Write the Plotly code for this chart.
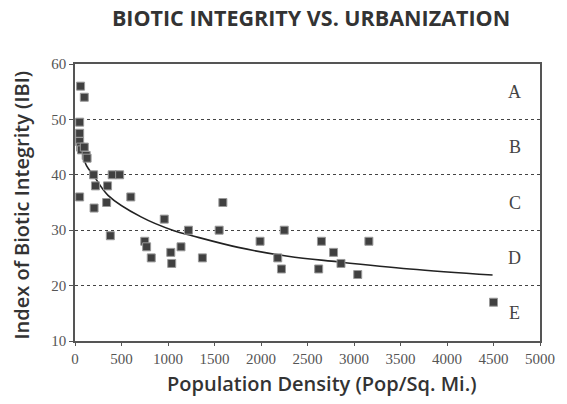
import plotly.graph_objects as go

# Data
pop_density = [60, 100, 50, 50, 50, 60, 70, 100, 120, 130, 200, 220, 350, 400, 480, 50, 600,
               205, 340, 380, 750, 770, 820, 960, 1030, 1040, 1140, 1220, 1370, 1550, 1590,
               1990, 2250, 2180, 2220, 2650, 2620, 2780, 2860, 3040, 3160, 4500]
ibi = [56, 54, 49.5, 47.5, 46, 45, 44.5, 45, 43.5, 43, 40, 38, 38, 40, 40, 36, 36,
       34, 35, 29, 28, 27, 25, 32, 26, 24, 27, 30, 25, 30, 35,
       28, 30, 25, 23, 28, 23, 26, 24, 22, 28, 17]

# Trend curve
trend_x = [85, 125, 195, 355, 710, 1065, 1260, 1755, 2290, 2820, 3600, 4490]
trend_y = [43.6, 41.6, 40.0, 36.3, 32.4, 29.9, 29.0, 26.9, 25.3, 24.3, 23.0, 21.9]

class_labels = ["A", "B", "C", "D", "E"]
class_label_y = [55, 45, 35, 25, 15]
class_label_x = 4730

x_ticks = [0, 500, 1000, 1500, 2000, 2500, 3000, 3500, 4000, 4500, 5000]
y_ticks = [10, 20, 30, 40, 50, 60]

fig = go.Figure()
fig.add_trace(go.Scatter(x=trend_x, y=trend_y, mode="lines", line_shape="spline",
                         line=dict(color="#222222", width=1.6), hoverinfo="skip"))
fig.add_trace(go.Scatter(x=pop_density, y=ibi, mode="markers",
                         marker=dict(symbol="square", size=8, color="#404040",
                                     line=dict(color="#9a9a9a", width=1))))
for lab, ly in zip(class_labels, class_label_y):
    fig.add_annotation(x=class_label_x, y=ly, text=lab, showarrow=False,
                       font=dict(family="Liberation Serif", size=18, color="#444444"))

fig.add_annotation(text="Population Density (Pop/Sq. Mi.)", xref="paper", yref="paper",
                   x=0.53, y=-0.152, xanchor="center", yanchor="middle", showarrow=False,
                   font=dict(family="Open Sans", size=20, color="#333333", weight=600))
fig.add_annotation(text="Index of Biotic Integrity (IBI)", xref="paper", yref="paper",
                   x=-0.115, y=0.491, xanchor="center", yanchor="middle", showarrow=False,
                   textangle=-90,
                   font=dict(family="Open Sans", size=20, color="#333333", weight=600))

fig.update_layout(
    width=567, height=404,
    margin=dict(l=75, r=22, t=64, b=63),
    paper_bgcolor="white", plot_bgcolor="white",
    showlegend=False,
    title=dict(text="BIOTIC INTEGRITY VS. URBANIZATION", x=311 / 567, xref="container",
               xanchor="center", y=1 - 18 / 404, yref="container", yanchor="middle",
               font=dict(family="Open Sans", size=21.5, color="#333333", weight="bold")),
    xaxis=dict(range=[0, 5000], tickvals=x_ticks, showgrid=False, zeroline=False,
               showline=True, linecolor="#555555", linewidth=1.5, mirror=True,
               ticks="outside", ticklen=3, tickcolor="#555555",
               tickfont=dict(family="Liberation Serif", size=15, color="#555555")),
    yaxis=dict(range=[10, 60], tickvals=y_ticks, showgrid=True, gridcolor="#444444",
               griddash="dot", gridwidth=1, zeroline=False,
               showline=True, linecolor="#555555", linewidth=1.5, mirror=True,
               ticks="outside", ticklen=4, tickcolor="#555555",
               tickfont=dict(family="Liberation Serif", size=15, color="#555555")),
)

fig.write_html("out.html", config={"displayModeBar": False},
               post_script="document.body.style.margin='0px';")
